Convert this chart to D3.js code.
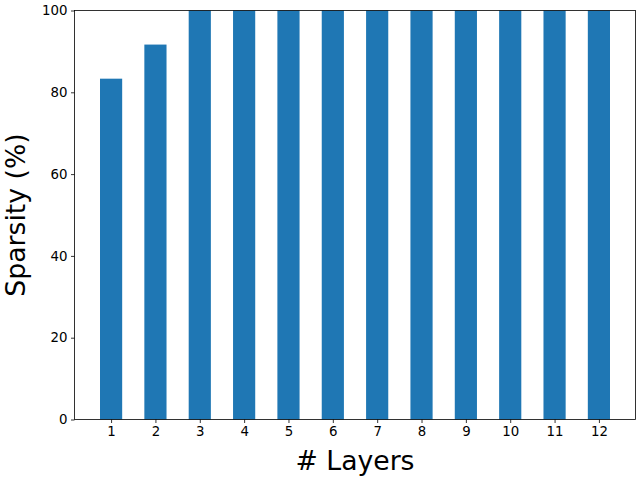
<!DOCTYPE html>
<html><head><meta charset="utf-8">
<script src="https://cdn.jsdelivr.net/npm/d3@7"></script>
<style>body{margin:0;background:#fff}svg{display:block}</style>
</head><body>
<script>
const layers = [1,2,3,4,5,6,7,8,9,10,11,12];
const sparsity = [83.33,91.67,100,100,100,100,100,100,100,100,100,100];
const yTicks = [0,20,40,60,80,100];

const W=640,H=480, L=74.5, R=635.5, T=10.5, B=419.5;
const svg=d3.select("body").append("svg").attr("width",W).attr("height",H);
const x=d3.scaleLinear().domain([0.175,12.825]).range([L,R]);
const y=d3.scaleLinear().domain([0,100]).range([B,T]);
const bw = x(1.25)-x(0.75);

svg.append("g").selectAll("rect").data(layers).join("rect")
  .attr("x",(d,i)=>x(d)-bw/2).attr("width",bw)
  .attr("y",(d,i)=>y(sparsity[i])).attr("height",(d,i)=>y(0)-y(sparsity[i]))
  .attr("fill","#1f77b4");

const font="DejaVu Sans";
const xa=svg.append("g").attr("transform",`translate(0,${B})`)
  .call(d3.axisBottom(x).tickValues(layers).tickSize(3.5).tickPadding(3.5).tickFormat(d3.format("d")));
const ya=svg.append("g").attr("transform",`translate(${L},0)`)
  .call(d3.axisLeft(y).tickValues(yTicks).tickSize(3.5).tickPadding(3.5));
[xa,ya].forEach(a=>{a.select(".domain").remove();a.selectAll("text").attr("font-family",font).attr("font-size","13.33px").attr("fill","#000");a.selectAll("line").attr("stroke","#000").attr("stroke-width",0.8);});

svg.append("rect").attr("x",L).attr("y",T).attr("width",R-L).attr("height",B-T)
  .attr("fill","none").attr("stroke","#000").attr("stroke-width",0.8);

svg.append("text").attr("x",(L+R)/2).attr("y",470).attr("text-anchor","middle")
  .attr("font-family",font).attr("font-size","26.67px").text("# Layers");
svg.append("text").attr("transform",`translate(25,${(T+B)/2}) rotate(-90)`).attr("text-anchor","middle")
  .attr("font-family",font).attr("font-size","26.67px").text("Sparsity (%)");
</script>
</body></html>
